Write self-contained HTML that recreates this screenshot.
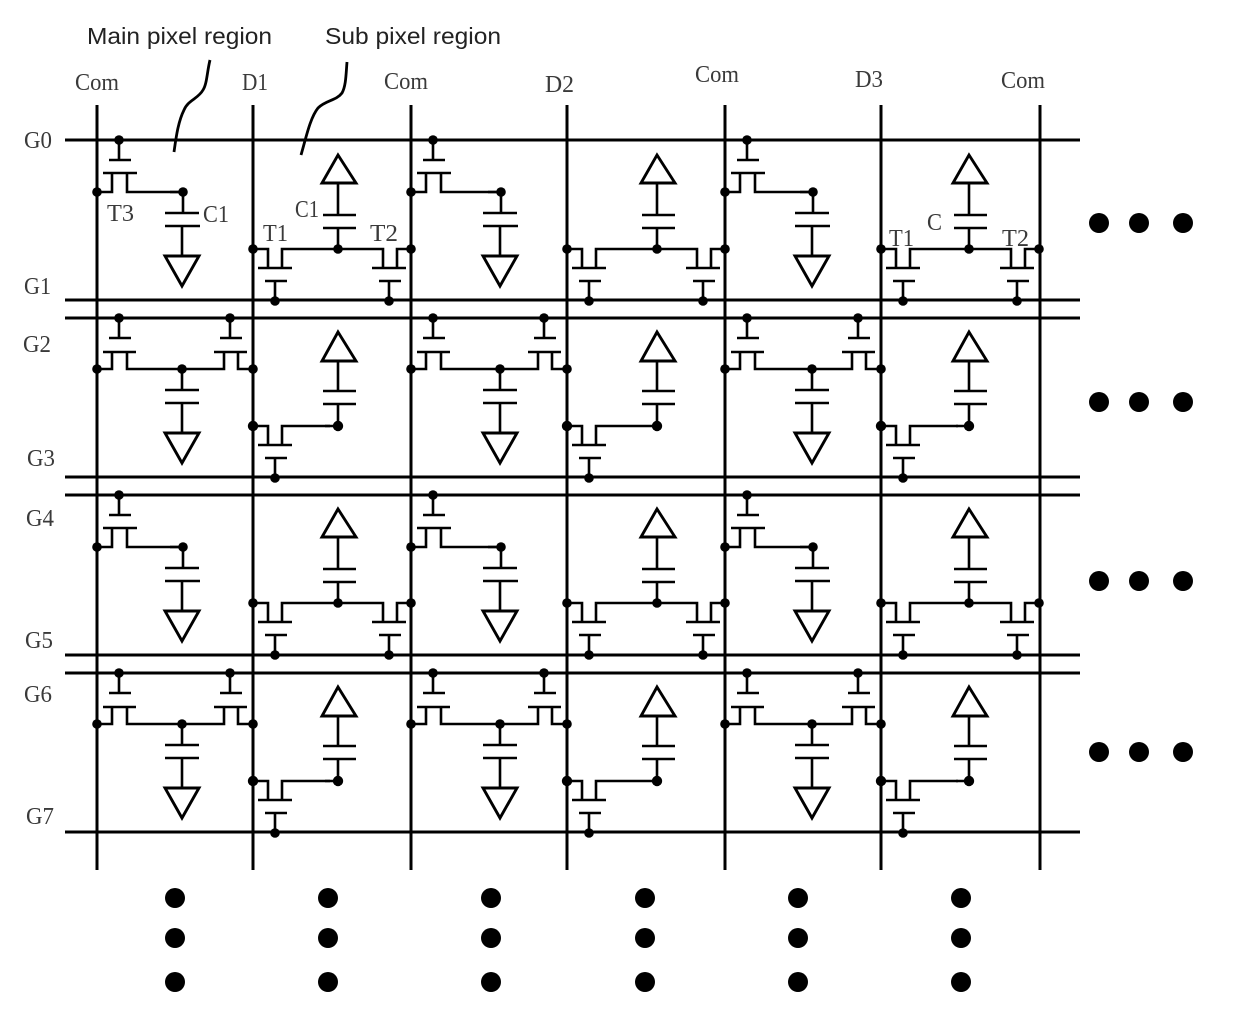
<!DOCTYPE html>
<html>
<head>
<meta charset="utf-8">
<style>
html,body{margin:0;padding:0;background:#fff;}
svg{display:block;}
.s{font-family:"Liberation Serif",serif;font-size:24px;fill:#3a3a3a;}
.a{font-family:"Liberation Sans",sans-serif;font-size:23.5px;fill:#222;}
</style>
</head>
<body>
<svg width="1240" height="1028" viewBox="0 0 1240 1028" xmlns="http://www.w3.org/2000/svg">
<defs>
<!-- main pixel, single TFT -->
<g id="A" fill="none" stroke="#000" stroke-width="2.6">
  <path d="M119 140V160M109 160H131M103 173H137M97 192H112V173M127 173V192H183"/>
  <g fill="#000" stroke="none"><circle cx="119" cy="140" r="4.8"/><circle cx="97" cy="192" r="4.8"/></g>
</g>
<g id="Ac" fill="none" stroke="#000" stroke-width="2.6">
  <path d="M170 192H183V213M165 213H199M165 226H200M182 226V256"/>
  <path d="M165 256H199L182 286Z" stroke-width="2.9"/>
  <circle cx="183" cy="192" r="4.8" fill="#000" stroke="none"/>
</g>
<!-- sub pixel, double TFT -->
<g id="B" fill="none" stroke="#000" stroke-width="2.6">
  <path d="M253 249H268V268M282 268V249H383V268M397 268V249H411M258 268H292M265 281H287M275 281V301M372 268H406M379 281H401M389 281V301"/>
  <g fill="#000" stroke="none"><circle cx="253" cy="249" r="4.8"/><circle cx="411" cy="249" r="4.8"/><circle cx="275" cy="301" r="4.8"/><circle cx="389" cy="301" r="4.8"/></g>
</g>
<g id="Bc" fill="none" stroke="#000" stroke-width="2.6">
  <path d="M338 183V215M323 215H356M323 228H356M338 228V249"/>
  <path d="M338 155L356 183H322Z" stroke-width="2.9"/>
  <circle cx="338" cy="249" r="4.8" fill="#000" stroke="none"/>
</g>
<!-- main pixel, double TFT -->
<g id="C" fill="none" stroke="#000" stroke-width="2.6">
  <path d="M119 318V338M109 338H131M103 352H136M97 369H112V352M127 352V369H224V352M238 352V369H253M214 352H247M220 338H242M230 318V338"/>
  <g fill="#000" stroke="none"><circle cx="119" cy="318" r="4.8"/><circle cx="230" cy="318" r="4.8"/><circle cx="97" cy="369" r="4.8"/><circle cx="253" cy="369" r="4.8"/></g>
</g>
<g id="Cc" fill="none" stroke="#000" stroke-width="2.6">
  <path d="M182 369V390M165 390H199M165 403H199M182 403V433"/>
  <path d="M165 433H199L182 463Z" stroke-width="2.9"/>
  <circle cx="182" cy="369" r="4.8" fill="#000" stroke="none"/>
</g>
<!-- sub pixel, single TFT -->
<g id="D" fill="none" stroke="#000" stroke-width="2.6">
  <path d="M330 426H282V445M253 426H268V445M258 445H292M265 458H287M275 458V478"/>
  <g fill="#000" stroke="none"><circle cx="253" cy="426" r="5.2"/><circle cx="275" cy="478" r="4.8"/></g>
</g>
<g id="Dc" fill="none" stroke="#000" stroke-width="2.6">
  <path d="M338 361V391M323 391H356M323 404H356M338 404V426H325"/>
  <path d="M338 332L356 361H322Z" stroke-width="2.9"/>
  <circle cx="338" cy="426" r="5.2" fill="#000" stroke="none"/>
</g>
</defs>

<rect width="1240" height="1028" fill="#fff"/>

<!-- bus lines -->
<g stroke="#000" stroke-width="3" fill="none">
  <path d="M97 105V870M253 105V870M411 105V870M567 105V870M725 105V870M881 105V870M1040 105V870"/>
  <path d="M65 140H1080M65 300H1080M65 318H1080M65 477H1080M65 495H1080M65 655H1080M65 673H1080M65 832H1080"/>
</g>

<!-- pixel cells -->
<use href="#A"/><use href="#A" x="314"/><use href="#A" x="628"/>
<use href="#Ac"/><use href="#Ac" x="318"/><use href="#Ac" x="630"/>
<use href="#B"/><use href="#B" x="314"/><use href="#B" x="628"/>
<use href="#Bc"/><use href="#Bc" x="319"/><use href="#Bc" x="631"/>
<use href="#C"/><use href="#C" x="314"/><use href="#C" x="628"/>
<use href="#Cc"/><use href="#Cc" x="318"/><use href="#Cc" x="630"/>
<use href="#D"/><use href="#D" x="314"/><use href="#D" x="628"/>
<use href="#Dc"/><use href="#Dc" x="319"/><use href="#Dc" x="631"/>

<use href="#A" y="355"/><use href="#A" x="314" y="355"/><use href="#A" x="628" y="355"/>
<use href="#Ac" y="355"/><use href="#Ac" x="318" y="355"/><use href="#Ac" x="630" y="355"/>
<use href="#B" y="354"/><use href="#B" x="314" y="354"/><use href="#B" x="628" y="354"/>
<use href="#Bc" y="354"/><use href="#Bc" x="319" y="354"/><use href="#Bc" x="631" y="354"/>
<use href="#C" y="355"/><use href="#C" x="314" y="355"/><use href="#C" x="628" y="355"/>
<use href="#Cc" y="355"/><use href="#Cc" x="318" y="355"/><use href="#Cc" x="630" y="355"/>
<use href="#D" y="355"/><use href="#D" x="314" y="355"/><use href="#D" x="628" y="355"/>
<use href="#Dc" y="355"/><use href="#Dc" x="319" y="355"/><use href="#Dc" x="631" y="355"/>

<!-- leaders -->
<g fill="none" stroke="#000" stroke-width="2.8">
  <path d="M210 60C207 72 207 84 203 90C198 99 188 100 184 110C178 122 176 138 174 152"/>
  <path d="M347 62C346 74 346 86 342 93C336 101 326 100 318 108C310 118 306 138 301 155"/>
</g>

<!-- big dots -->
<g fill="#000">
  <circle cx="1099" cy="223" r="10"/><circle cx="1139" cy="223" r="10"/><circle cx="1183" cy="223" r="10"/>
  <circle cx="1099" cy="402" r="10"/><circle cx="1139" cy="402" r="10"/><circle cx="1183" cy="402" r="10"/>
  <circle cx="1099" cy="581" r="10"/><circle cx="1139" cy="581" r="10"/><circle cx="1183" cy="581" r="10"/>
  <circle cx="1099" cy="752" r="10"/><circle cx="1139" cy="752" r="10"/><circle cx="1183" cy="752" r="10"/>
  <circle cx="175" cy="898" r="10"/><circle cx="175" cy="938" r="10"/><circle cx="175" cy="982" r="10"/>
  <circle cx="328" cy="898" r="10"/><circle cx="328" cy="938" r="10"/><circle cx="328" cy="982" r="10"/>
  <circle cx="491" cy="898" r="10"/><circle cx="491" cy="938" r="10"/><circle cx="491" cy="982" r="10"/>
  <circle cx="645" cy="898" r="10"/><circle cx="645" cy="938" r="10"/><circle cx="645" cy="982" r="10"/>
  <circle cx="798" cy="898" r="10"/><circle cx="798" cy="938" r="10"/><circle cx="798" cy="982" r="10"/>
  <circle cx="961" cy="898" r="10"/><circle cx="961" cy="938" r="10"/><circle cx="961" cy="982" r="10"/>
</g>

<!-- labels -->
<text class="a" x="87" y="44" textLength="185" lengthAdjust="spacingAndGlyphs">Main pixel region</text>
<text class="a" x="325" y="44" textLength="176" lengthAdjust="spacingAndGlyphs">Sub pixel region</text>

<text class="s" x="75" y="90" textLength="44" lengthAdjust="spacingAndGlyphs">Com</text>
<text class="s" x="242" y="90" textLength="26" lengthAdjust="spacingAndGlyphs">D1</text>
<text class="s" x="384" y="89" textLength="44" lengthAdjust="spacingAndGlyphs">Com</text>
<text class="s" x="545" y="92" textLength="29" lengthAdjust="spacingAndGlyphs">D2</text>
<text class="s" x="695" y="82" textLength="44" lengthAdjust="spacingAndGlyphs">Com</text>
<text class="s" x="855" y="87" textLength="28" lengthAdjust="spacingAndGlyphs">D3</text>
<text class="s" x="1001" y="88" textLength="44" lengthAdjust="spacingAndGlyphs">Com</text>

<text class="s" x="24" y="148" textLength="28" lengthAdjust="spacingAndGlyphs">G0</text>
<text class="s" x="24" y="294" textLength="27" lengthAdjust="spacingAndGlyphs">G1</text>
<text class="s" x="23" y="352" textLength="28" lengthAdjust="spacingAndGlyphs">G2</text>
<text class="s" x="27" y="466" textLength="28" lengthAdjust="spacingAndGlyphs">G3</text>
<text class="s" x="26" y="526" textLength="28" lengthAdjust="spacingAndGlyphs">G4</text>
<text class="s" x="25" y="648" textLength="28" lengthAdjust="spacingAndGlyphs">G5</text>
<text class="s" x="24" y="702" textLength="28" lengthAdjust="spacingAndGlyphs">G6</text>
<text class="s" x="26" y="824" textLength="28" lengthAdjust="spacingAndGlyphs">G7</text>

<text class="s" x="107" y="221" textLength="27" lengthAdjust="spacingAndGlyphs">T3</text>
<text class="s" x="203" y="222" textLength="26" lengthAdjust="spacingAndGlyphs">C1</text>
<text class="s" x="295" y="217" textLength="24" lengthAdjust="spacingAndGlyphs">C1</text>
<text class="s" x="263" y="241" textLength="25" lengthAdjust="spacingAndGlyphs">T1</text>
<text class="s" x="370" y="241" textLength="28" lengthAdjust="spacingAndGlyphs">T2</text>
<text class="s" x="889" y="246" textLength="25" lengthAdjust="spacingAndGlyphs">T1</text>
<text class="s" x="927" y="230" textLength="15" lengthAdjust="spacingAndGlyphs">C</text>
<text class="s" x="1002" y="246" textLength="27" lengthAdjust="spacingAndGlyphs">T2</text>
</svg>
</body>
</html>
